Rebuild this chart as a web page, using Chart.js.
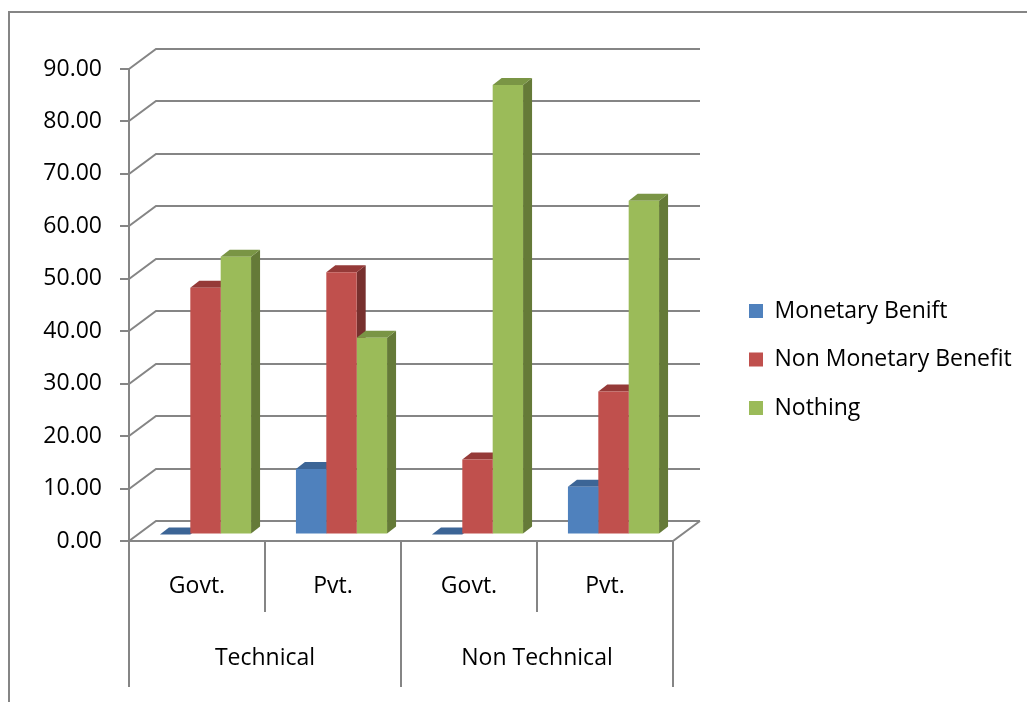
<!DOCTYPE html>
<html>
<head>
<meta charset="utf-8">
<title>Benefit by sector</title>
<script src="https://cdn.jsdelivr.net/npm/chart.js@4.4.1/dist/chart.umd.min.js"></script>
<style>
  html, body { margin: 0; padding: 0; background: #ffffff; }
  canvas { display: block; }
</style>
</head>
<body>
<canvas id="chart" width="1027" height="702"></canvas>
<script>
// ---- data ----
const subCategories = ['Govt.', 'Pvt.', 'Govt.', 'Pvt.'];
const groupCategories = ['Technical', 'Non Technical'];
const seriesNames = ['Monetary Benift', 'Non Monetary Benefit', 'Nothing'];
const monetaryBenefit = [0, 12.5, 0, 9.09];
const nonMonetaryBenefit = [47.06, 50.0, 14.29, 27.27];
const nothing = [52.94, 37.5, 85.71, 63.64];
const valueTickLabels = ['0.00', '10.00', '20.00', '30.00', '40.00', '50.00', '60.00', '70.00', '80.00', '90.00'];

// ---- style ----
const FONT = { family: "'Open Sans', sans-serif", size: 23 };
const LINE = '#858585';
const WALL = { dx: 27, dy: -20 };   // depth of the back wall
const ROW = { dx: 8.5, dy: -6.5 };  // where the bar row stands on the floor
const DEPTH = { dx: 9, dy: -7 };    // depth of each bar
const faces = [
  { front: '#4F81BD', top: '#3C6596', side: '#2F5078' },
  { front: '#C0504D', top: '#953A38', side: '#77302E' },
  { front: '#9BBB59', top: '#7A9545', side: '#657A38' }
];

// draws the 3-D walls, floor, bar depth and category dividers
const box3d = {
  id: 'box3d',
  beforeDraw(chart) {
    const ctx = chart.ctx;
    ctx.save();
    ctx.fillStyle = '#ffffff';
    ctx.fillRect(0, 0, chart.width, chart.height);
    // outer frame
    ctx.strokeStyle = LINE;
    ctx.lineWidth = 2;
    ctx.beginPath();
    ctx.moveTo(9, chart.height + 5);
    ctx.lineTo(9, 12);
    ctx.lineTo(chart.width + 5, 12);
    ctx.stroke();
    ctx.restore();
  },
  beforeDatasetsDraw(chart) {
    const { ctx, chartArea: a, scales } = chart;
    const y = scales.y;
    ctx.save();
    ctx.strokeStyle = LINE;
    ctx.lineWidth = 2;
    // back wall gridlines with their diagonal connectors
    y.ticks.forEach(t => {
      const py = Math.round(y.getPixelForValue(t.value));
      ctx.beginPath();
      ctx.moveTo(a.left, py);
      ctx.lineTo(a.left + WALL.dx, py + WALL.dy);
      ctx.lineTo(a.right + WALL.dx, py + WALL.dy);
      ctx.stroke();
    });
    // floor front and right edges
    const pb = Math.round(a.bottom);
    ctx.beginPath();
    ctx.moveTo(a.left, pb);
    ctx.lineTo(a.right, pb);
    ctx.lineTo(a.right + WALL.dx, pb + WALL.dy);
    ctx.stroke();
    ctx.restore();

    // bar row sits a little behind the front edge
    ctx.save();
    ctx.translate(ROW.dx, ROW.dy);
    const metas = chart.getSortedVisibleDatasetMetas();
    const n = chart.data.labels.length;
    for (let i = 0; i < n; i++) {
      metas.forEach(meta => {
        const el = meta.data[i];
        if (!el) return;
        const f = faces[meta.index];
        const L = el.x - el.width / 2, R = el.x + el.width / 2;
        const T = el.y, B = el.base;
        // side face
        ctx.fillStyle = f.side;
        ctx.beginPath();
        ctx.moveTo(R, T);
        ctx.lineTo(R + DEPTH.dx, T + DEPTH.dy);
        ctx.lineTo(R + DEPTH.dx, B + DEPTH.dy);
        ctx.lineTo(R, B);
        ctx.closePath();
        ctx.fill();
        // top face
        ctx.fillStyle = f.top;
        ctx.beginPath();
        ctx.moveTo(L, T);
        ctx.lineTo(R, T);
        ctx.lineTo(R + DEPTH.dx, T + DEPTH.dy);
        ctx.lineTo(L + DEPTH.dx, T + DEPTH.dy);
        ctx.closePath();
        ctx.fill();
      });
    }
  },
  afterDatasetsDraw(chart) {
    chart.ctx.restore();
  },
  afterDraw(chart) {
    const { ctx, chartArea: a, scales } = chart;
    const x = scales.x, x2 = scales.x2;
    const step = x.getPixelForTick(1) - x.getPixelForTick(0);
    ctx.save();
    ctx.strokeStyle = LINE;
    ctx.lineWidth = 2;
    for (let i = 0; i <= chart.data.labels.length; i++) {
      const px = Math.round(x.getPixelForTick(0) - step / 2 + i * step);
      const end = i % 2 === 0 ? x2.bottom : x.bottom;
      ctx.beginPath();
      ctx.moveTo(px, a.bottom);
      ctx.lineTo(px, end);
      ctx.stroke();
    }
    ctx.restore();
  },
  afterLayout(chart) {
    // legend column to the right of the plot
    const lg = chart.legend;
    const pad = lg.options.labels.padding;
    lg.left = 749 - pad;
    lg.right = lg.left + lg.width;
    lg.top = 274;
    lg.bottom = 700;
  }
};

const datasets = [monetaryBenefit, nonMonetaryBenefit, nothing].map((values, k) => ({
  label: seriesNames[k],
  data: values,
  backgroundColor: faces[k].front,
  borderWidth: 0,
  categoryPercentage: 0.67,
  barPercentage: 1.0,
  clip: false
}));

new Chart(document.getElementById('chart'), {
  type: 'bar',
  data: { labels: subCategories, datasets },
  options: {
    responsive: false,
    animation: false,
    events: [],
    layout: { padding: { top: 69, right: 354, bottom: 15, left: 0 } },
    scales: {
      y: {
        min: 0, max: 90,
        ticks: { stepSize: 10, padding: 18, color: '#000', font: FONT,
                 callback: (v, i) => valueTickLabels[i] },
        grid: { drawOnChartArea: false, drawTicks: true, tickLength: 9, color: LINE, lineWidth: 2 },
        border: { display: true, color: LINE, width: 2 },
        afterFit(s) { s.width = 129; }
      },
      x: {
        weight: 0,
        grid: { display: false, drawTicks: false },
        border: { display: false },
        ticks: { padding: 32, color: '#000', font: FONT, maxRotation: 0, autoSkip: false },
        afterFit(s) { s.height = 71; }
      },
      x2: {
        type: 'category',
        axis: 'x',
        position: 'bottom',
        weight: 1,
        labels: groupCategories,
        offset: true,
        grid: { display: false, drawTicks: false },
        border: { display: false },
        ticks: { padding: 33, color: '#000', font: FONT, maxRotation: 0, autoSkip: false },
        afterFit(s) { s.height = 75; }
      }
    },
    plugins: {
      legend: {
        position: 'chartArea',
        align: 'start',
        labels: { boxWidth: 14, boxHeight: 14, padding: 25.5, color: '#000', font: FONT }
      },
      tooltip: { enabled: false }
    }
  },
  plugins: [box3d]
});
</script>
</body>
</html>
